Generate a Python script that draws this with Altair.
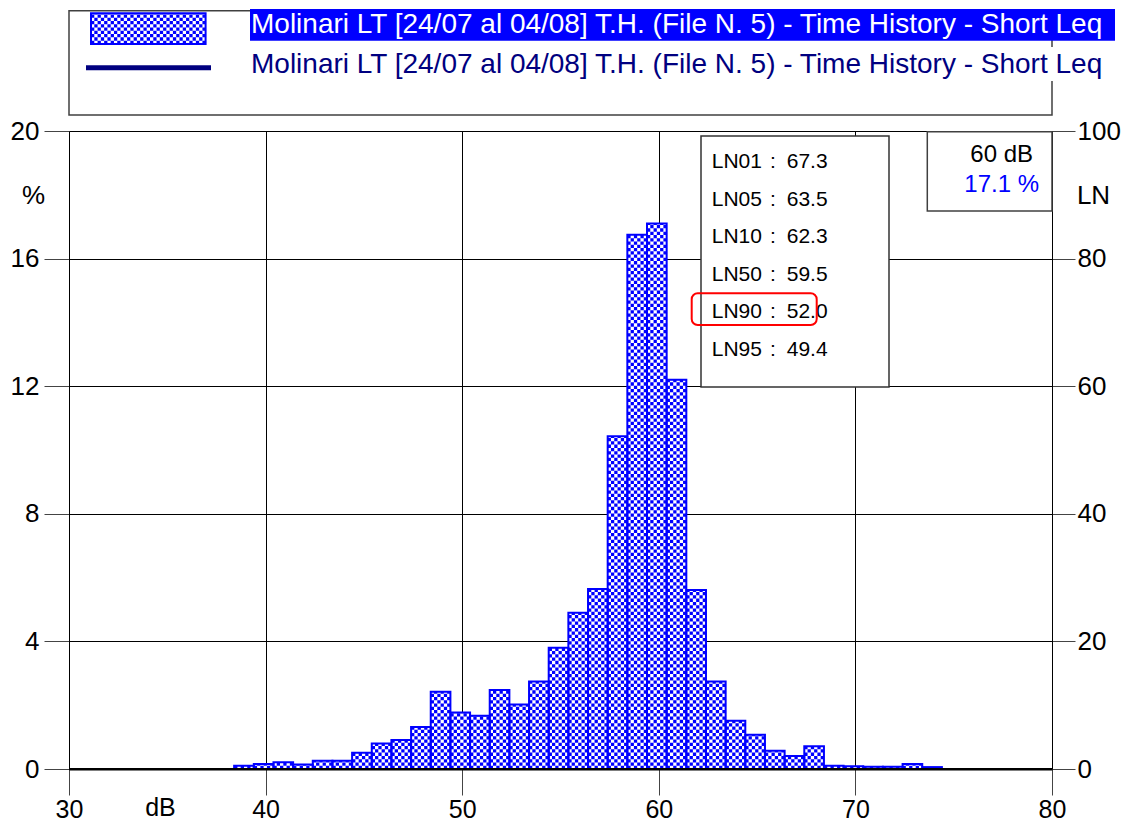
import altair as alt
import pandas as pd

# ---------------- data ----------------
db_levels = [39, 40, 41, 42, 43, 44, 45, 46, 47, 48, 49, 50, 51, 52, 53, 54, 55, 56,
             57, 58, 59, 60, 61, 62, 63, 64, 65, 66, 67, 68, 69, 70, 71, 72, 73, 74]
percent = [0.10, 0.16, 0.21, 0.14, 0.26, 0.26, 0.51, 0.80, 0.91, 1.32, 2.42, 1.77,
           1.67, 2.48, 2.02, 2.74, 3.80, 4.90, 5.64, 10.43, 16.75, 17.10, 12.20, 5.61,
           2.74, 1.51, 1.07, 0.57, 0.41, 0.71, 0.10, 0.09, 0.07, 0.07, 0.16, 0.06]
x_ticks = [30, 40, 50, 60, 70, 80]
y_ticks = [0, 4, 8, 12, 16, 20]
ln_labels = ["LN01", "LN05", "LN10", "LN50", "LN90", "LN95"]
ln_values = ["67.3", "63.5", "62.3", "59.5", "52.0", "49.4"]
legend_text = "Molinari LT [24/07 al 04/08] T.H. (File N. 5) - Time History - Short Leq"
peak_db = "60 dB"
peak_pct = "17.1 %"

df = pd.DataFrame({"db": db_levels, "pct": percent})
one = pd.DataFrame({"i": [0]})

FONT = "Liberation Sans"
BLUE = "#0000FF"
NAVY = "#000080"
W, H = 983, 638
CELL = W / 50 / 6

xs = alt.Scale(domain=[30, 80], nice=False, zero=False)
ys = alt.Scale(domain=[0, 20], nice=False, zero=True)

x_axis = alt.Axis(orient="bottom", values=x_ticks, grid=True, gridColor="black", gridWidth=1,
                  domainColor="black", domainWidth=2, tickColor="#444", tickSize=26,
                  labelFont=FONT, labelFontSize=25, labelColor="black", labelPadding=2,
                  labelFlush=False, title="dB", titleFont=FONT, titleFontSize=25,
                  titleFontWeight="normal", titleColor="black", titleX=91, titleY=38,
                  titleAlign="center", titleBaseline="middle")
y_left = alt.Axis(orient="left", values=y_ticks, grid=True, gridColor="black", gridWidth=1,
                  domainColor="black", domainWidth=1, tickColor="#444", tickSize=25,
                  labelFont=FONT, labelFontSize=26, labelColor="black", labelPadding=5,
                  labelFlush=False, title="%", titleAngle=0, titleX=-36, titleY=64,
                  titleAlign="center", titleBaseline="middle", titleFont=FONT,
                  titleFontSize=26, titleFontWeight="normal", titleColor="black")
y_right = alt.Axis(orient="right", values=y_ticks, grid=False,
                   domainColor="black", domainWidth=1, tickColor="#444", tickSize=23,
                   labelExpr="format(datum.value * 5, 'd')",
                   labelFont=FONT, labelFontSize=26, labelColor="black", labelPadding=2,
                   labelFlush=False, title="LN", titleAngle=0, titleX=41, titleY=64,
                   titleAlign="center", titleBaseline="middle", titleFont=FONT,
                   titleFontSize=26, titleFontWeight="normal", titleColor="black")


def X(field):
    return alt.X(field, scale=xs, axis=x_axis)


bars = alt.Chart(df).transform_calculate(x0="datum.db - 0.6", x1="datum.db + 0.4")

fill_layer = bars.mark_rect(fill="white").encode(
    x=X("x0:Q"),
    x2="x1:Q",
    y=alt.Y("pct:Q", scale=ys, axis=y_left),
    y2=alt.datum(0),
)

cols = bars.transform_calculate(k="sequence(0, 6)").transform_flatten(["k"]).transform_calculate(
    xc="datum.db - 0.6 + (datum.k + 0.5) / 6", zero="0", odd="datum.k % 2")

even = cols.transform_filter("datum.odd == 0").mark_rule(
    color=BLUE, strokeWidth=CELL, strokeDash=[CELL, CELL]).encode(
    x=X("xc:Q"),
    y=alt.Y("zero:Q", scale=ys, axis=None),
    y2="pct:Q",
)
odd = cols.transform_filter("datum.odd == 1").mark_rule(
    color=BLUE, strokeWidth=CELL, strokeDash=[CELL, CELL], strokeDashOffset=CELL).encode(
    x=X("xc:Q"),
    y=alt.Y("zero:Q", scale=ys, axis=None),
    y2="pct:Q",
)

outline = bars.mark_rect(filled=False, stroke=BLUE, strokeWidth=2).encode(
    x=X("x0:Q"),
    x2="x1:Q",
    y=alt.Y("pct:Q", scale=ys, axis=y_right),
    y2=alt.datum(0),
)

baseline = alt.Chart(one).mark_rule(color="black", strokeWidth=2).encode(
    x=alt.value(0), x2=alt.value(W), y=alt.value(H))

# ---------------- legend ----------------
legend_box = alt.Chart(one).mark_rect(fill="white", stroke="#404040", strokeWidth=1.5).encode(
    x=alt.value(0), x2=alt.value(W), y=alt.value(-120.3), y2=alt.value(-16))
row2_bg = alt.Chart(one).mark_rect(fill="white").encode(
    x=alt.value(181), x2=alt.value(1046), y=alt.value(-84), y2=alt.value(-50))
highlight = alt.Chart(one).mark_rect(fill=BLUE).encode(
    x=alt.value(181), x2=alt.value(1046), y=alt.value(-122), y2=alt.value(-90.3))

sw = alt.Chart(one).transform_calculate(k="sequence(0, 35)").transform_flatten(["k"]).transform_calculate(
    xc="31.12 + (datum.k + 0.5) / 6", lo="22.73", hi="23.69", odd="datum.k % 2")
sw_even = sw.transform_filter("datum.odd == 0").mark_rule(
    color=BLUE, strokeWidth=CELL, strokeDash=[CELL, CELL]).encode(
    x=X("xc:Q"),
    y=alt.Y("lo:Q", scale=ys, axis=None), y2="hi:Q")
sw_odd = sw.transform_filter("datum.odd == 1").mark_rule(
    color=BLUE, strokeWidth=CELL, strokeDash=[CELL, CELL], strokeDashOffset=CELL).encode(
    x=X("xc:Q"),
    y=alt.Y("lo:Q", scale=ys, axis=None), y2="hi:Q")
sw_border = alt.Chart(one).mark_rect(filled=False, stroke=BLUE, strokeWidth=2).encode(
    x=alt.value(22), x2=alt.value(136.6), y=alt.value(-117.7), y2=alt.value(-87.1))

legend_line = alt.Chart(one).mark_rule(color=NAVY, strokeWidth=5).encode(
    x=alt.value(17), x2=alt.value(142), y=alt.value(-63.3))
legend_t1 = alt.Chart(one).mark_text(text=legend_text, font=FONT, fontSize=28, color="white",
                                     align="left", baseline="alphabetic").encode(
    x=alt.value(182), y=alt.value(-97.7))
legend_t2 = alt.Chart(one).mark_text(text=legend_text, font=FONT, fontSize=28, color=NAVY,
                                     align="left", baseline="alphabetic").encode(
    x=alt.value(182), y=alt.value(-57.7))

# ---------------- LN box ----------------
ln_box = alt.Chart(one).mark_rect(fill="white", stroke="#333333", strokeWidth=1.5).encode(
    x=alt.value(632), x2=alt.value(820), y=alt.value(5), y2=alt.value(256))
ln_t1 = alt.Chart(one).mark_text(text=ln_labels, font=FONT, fontSize=21, color="black",
                                 align="left", baseline="alphabetic", lineHeight=37.55).encode(
    x=alt.value(642.7), y=alt.value(37.3))
ln_t2 = alt.Chart(one).mark_text(text=[":"] * len(ln_labels), font=FONT, fontSize=21, color="black",
                                 align="center", baseline="alphabetic", lineHeight=37.55).encode(
    x=alt.value(704), y=alt.value(37.3))
ln_t3 = alt.Chart(one).mark_text(text=ln_values, font=FONT, fontSize=21, color="black",
                                 align="left", baseline="alphabetic", lineHeight=37.55).encode(
    x=alt.value(717.7), y=alt.value(37.3))
red_box = alt.Chart(one).mark_rect(filled=False, stroke="#FF0000", strokeWidth=2, cornerRadius=6).encode(
    x=alt.value(622.7), x2=alt.value(747.7), y=alt.value(162.3), y2=alt.value(194))

# ---------------- peak box ----------------
pk_box = alt.Chart(one).mark_rect(fill="white", stroke="#404040", strokeWidth=1.5).encode(
    x=alt.value(858.3), x2=alt.value(W), y=alt.value(0.7), y2=alt.value(80))
pk_t1 = alt.Chart(one).mark_text(text=peak_db, font=FONT, fontSize=24, color="black",
                                 align="right", baseline="alphabetic").encode(
    x=alt.value(964), y=alt.value(30.7))
pk_t2 = alt.Chart(one).mark_text(text=peak_pct, font=FONT, fontSize=24, color=BLUE,
                                 align="right", baseline="alphabetic").encode(
    x=alt.value(970), y=alt.value(60.7))

chart = alt.layer(
    fill_layer, even, odd, outline, baseline,
    legend_box, row2_bg, highlight, sw_even, sw_odd, sw_border, legend_line, legend_t1, legend_t2,
    ln_box, ln_t1, ln_t2, ln_t3, red_box,
    pk_box, pk_t1, pk_t2,
).resolve_axis(y="independent").properties(
    width=W, height=H,
    autosize=alt.AutoSizeParams(type="none"),
    padding={"left": 69, "top": 131, "right": 76, "bottom": 54},
    background="white",
).configure_view(stroke=None).configure(font=FONT)

chart.save("out.html", embed_options={"renderer": "svg", "actions": False})
